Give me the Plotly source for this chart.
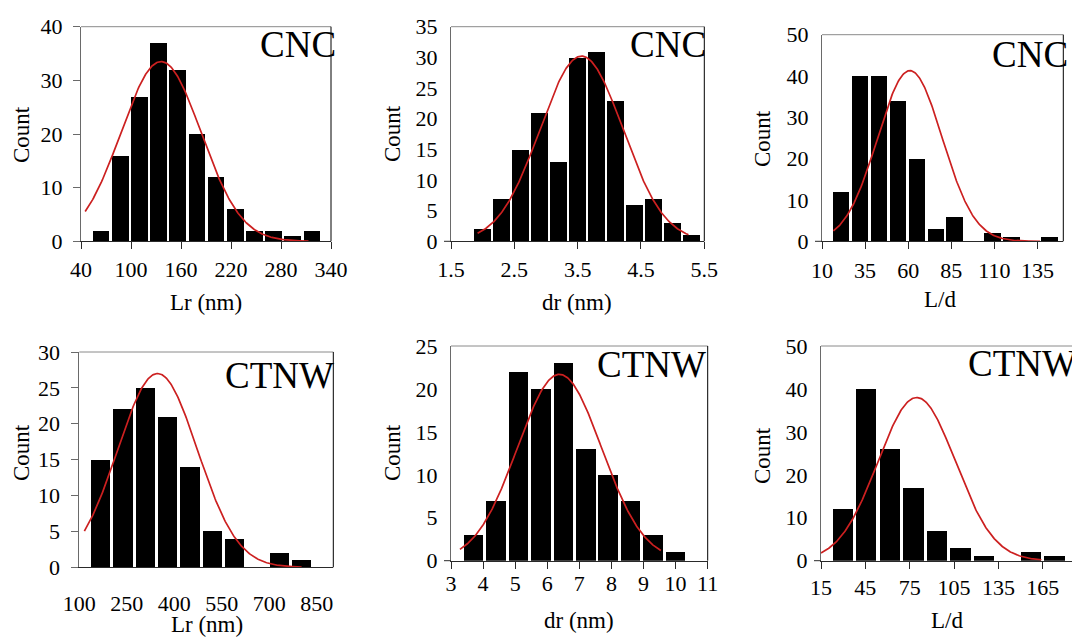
import numpy as np
import plotly.graph_objects as go

W, H = 1072, 637
FONT = "Liberation Serif, Times New Roman, serif"

# Histogram bin centres and counts
cnc_lr_bins = [64, 87, 110, 133, 156, 179, 202, 225, 248, 271, 294, 317]
cnc_lr_counts = [2, 16, 27, 37, 32, 20, 12, 6, 2, 2, 1, 2]
cnc_dr_bins = [2.0, 2.3, 2.6, 2.9, 3.2, 3.5, 3.8, 4.1, 4.4, 4.7, 5.0, 5.3]
cnc_dr_counts = [2, 7, 15, 21, 13, 30, 31, 23, 6, 7, 3, 1]
cnc_ld_bins = [21, 32, 43, 54, 65, 76, 87, 98, 109, 120, 131, 142]
cnc_ld_counts = [12, 40, 40, 34, 20, 3, 6, 0, 2, 1, 0, 1]
ctnw_lr_bins = [168.5, 239, 309.5, 380, 450.5, 521, 591.5, 662, 732.5, 803]
ctnw_lr_counts = [15, 22, 25, 21, 14, 5, 4, 0, 2, 1]
ctnw_dr_bins = [3.7, 4.4, 5.1, 5.8, 6.5, 7.2, 7.9, 8.6, 9.3, 10.0]
ctnw_dr_counts = [3, 7, 22, 20, 23, 13, 10, 7, 3, 1]
ctnw_ld_bins = [29.7, 45.6, 61.5, 77.4, 93.3, 109.2, 125.1, 141.0, 156.9, 172.8]
ctnw_ld_counts = [12, 40, 26, 17, 7, 3, 1, 0, 2, 1]

# Normal-distribution fits: mean, standard deviation, peak height, drawn span
fit_mean = [136, 3.56, 61, 347, 6.38, 79.7]
fit_sd = [48, 0.654, 18.75, 126, 1.31, 26.2]
fit_peak = [33.5, 30.2, 41.3, 27.0, 21.7, 38.0]
fit_span = [(45, 313), (1.92, 5.25), (16.6, 136.5), (116, 802), (3.28, 9.54), (15, 164)]

sample_names = ["CNC", "CNC", "CNC", "CTNW", "CTNW", "CTNW"]
x_titles = ["Lr (nm)", "dr (nm)", "L/d", "Lr (nm)", "dr (nm)", "L/d"]

bins = [cnc_lr_bins, cnc_dr_bins, cnc_ld_bins, ctnw_lr_bins, ctnw_dr_bins, ctnw_ld_bins]
counts = [cnc_lr_counts, cnc_dr_counts, cnc_ld_counts,
          ctnw_lr_counts, ctnw_dr_counts, ctnw_ld_counts]

# Panel geometry in pixels: plot-area left, right, top, bottom
panels = [
    dict(box=(81, 331, 26.7, 241.3), xr=[40, 340], xt=[40, 100, 160, 220, 280, 340],
         yr=[0, 40], dy=10, xticks=True, yticks=True, xoff=1, yoff=6,
         ytitle=(22, 135), xtitle=(206, 302), name=(258, 44)),
    dict(box=(451, 704.3, 26.7, 241.3), xr=[1.5, 5.5], xt=[1.5, 2.5, 3.5, 4.5, 5.5],
         yr=[0, 35], dy=5, xticks=True, yticks=False, xoff=1, yoff=8,
         ytitle=(392, 134), xtitle=(577, 302), name=(628, 44)),
    dict(box=(822, 1063.3, 34.7, 241.3), xr=[10, 150], xt=[10, 35, 60, 85, 110, 135],
         yr=[0, 50], dy=10, xticks=True, yticks=False, xoff=2, yoff=8,
         ytitle=(762, 139), xtitle=(940, 299), name=(990, 54)),
    dict(box=(79.3, 333.3, 352, 567.3), xr=[100, 902], xt=[100, 250, 400, 550, 700, 850],
         yr=[0, 30], dy=5, xticks=False, yticks=True, xoff=16, yoff=7,
         ytitle=(21, 453), xtitle=(207, 624), name=(223, 375)),
    dict(box=(451, 707.7, 346, 560.7), xr=[3, 11], xt=list(range(3, 12)),
         yr=[0, 25], dy=5, xticks=True, yticks=False, xoff=-4, yoff=8,
         ytitle=(392, 453), xtitle=(579, 620), name=(595, 364)),
    dict(box=(821, 1072, 346, 560.7), xr=[15, 184.7], xt=[15, 45, 75, 105, 135, 165],
         yr=[0, 50], dy=10, xticks=True, yticks=False, xoff=0, yoff=8,
         ytitle=(762, 456), xtitle=(947, 620), name=(966, 363), open_right=True),
]

LEFT_COL = "#6a6a6a"
TOP_COL = "#8a8a8a"
BOTTOM_COL = "#2a2a2a"
FIT_COL = "#cc2020"

fig = go.Figure()
shapes = []
annotations = []

for i, p in enumerate(panels):
    k = "" if i == 0 else str(i + 1)
    xa, ya = "x" + k, "y" + k
    l, r, t, b = p["box"]
    bw = bins[i][1] - bins[i][0]

    fig.add_trace(go.Bar(
        x=bins[i], y=counts[i], width=bw * 0.87,
        marker=dict(color="black", line=dict(width=0)),
        xaxis=xa, yaxis=ya, showlegend=False,
    ))

    xs = np.linspace(fit_span[i][0], fit_span[i][1], 300)
    ys = fit_peak[i] * np.exp(-0.5 * ((xs - fit_mean[i]) / fit_sd[i]) ** 2)
    fig.add_trace(go.Scatter(
        x=xs, y=ys, mode="lines", line=dict(color=FIT_COL, width=1.7),
        xaxis=xa, yaxis=ya, showlegend=False,
    ))

    fig.layout["xaxis" + k] = dict(
        domain=[l / W, r / W], range=p["xr"], anchor=ya,
        tickmode="array", tickvals=p["xt"], ticktext=[str(v) for v in p["xt"]],
        showline=True, linecolor=BOTTOM_COL, linewidth=1,
        ticks="outside" if p["xticks"] else "", ticklen=7, tickcolor=BOTTOM_COL,
        ticklabelstandoff=p["xoff"],
        showgrid=False, zeroline=False, fixedrange=True,
        tickfont=dict(family=FONT, size=22, color="black"),
    )
    fig.layout["yaxis" + k] = dict(
        domain=[1 - b / H, 1 - t / H], range=p["yr"], anchor=xa,
        tick0=0, dtick=p["dy"],
        showline=True, linecolor=LEFT_COL, linewidth=1,
        ticks="outside" if p["yticks"] else "", ticklen=7, tickcolor=LEFT_COL,
        ticklabelstandoff=p["yoff"],
        showgrid=False, zeroline=False, fixedrange=True,
        tickfont=dict(family=FONT, size=22, color="black"),
    )

    # top frame line
    shapes.append(dict(type="line", xref="paper", yref="paper",
                       x0=l / W, x1=r / W, y0=1 - t / H, y1=1 - t / H,
                       line=dict(color=TOP_COL, width=1)))
    # right frame line
    if not p.get("open_right"):
        shapes.append(dict(type="line", xref="paper", yref="paper",
                           x0=r / W, x1=r / W, y0=1 - b / H, y1=1 - t / H,
                           line=dict(color="black", width=1)))
    # short stub of the baseline left of the count axis
    if not p["yticks"]:
        shapes.append(dict(type="line", xref="paper", yref="paper",
                           x0=(l - 7) / W, x1=l / W, y0=1 - b / H, y1=1 - b / H,
                           line=dict(color=BOTTOM_COL, width=1)))

    annotations.append(dict(
        text="Count", xref="paper", yref="paper",
        x=p["ytitle"][0] / W, y=1 - p["ytitle"][1] / H,
        xanchor="center", yanchor="middle", textangle=-90, showarrow=False,
        font=dict(family=FONT, size=23, color="black"),
    ))
    annotations.append(dict(
        text=x_titles[i], xref="paper", yref="paper",
        x=p["xtitle"][0] / W, y=1 - p["xtitle"][1] / H,
        xanchor="center", yanchor="middle", showarrow=False,
        font=dict(family=FONT, size=23, color="black"),
    ))
    annotations.append(dict(
        text=sample_names[i], xref="paper", yref="paper",
        x=p["name"][0] / W, y=1 - p["name"][1] / H,
        xanchor="left", yanchor="middle", showarrow=False,
        font=dict(family=FONT, size=37, color="black"),
    ))

fig.update_layout(
    width=W, height=H,
    margin=dict(l=0, r=0, t=0, b=0, autoexpand=False),
    paper_bgcolor="white", plot_bgcolor="white",
    bargap=0, showlegend=False,
    shapes=shapes, annotations=annotations,
    font=dict(family=FONT, color="black"),
)

fig.write_html("out.html", config={"displayModeBar": False})
